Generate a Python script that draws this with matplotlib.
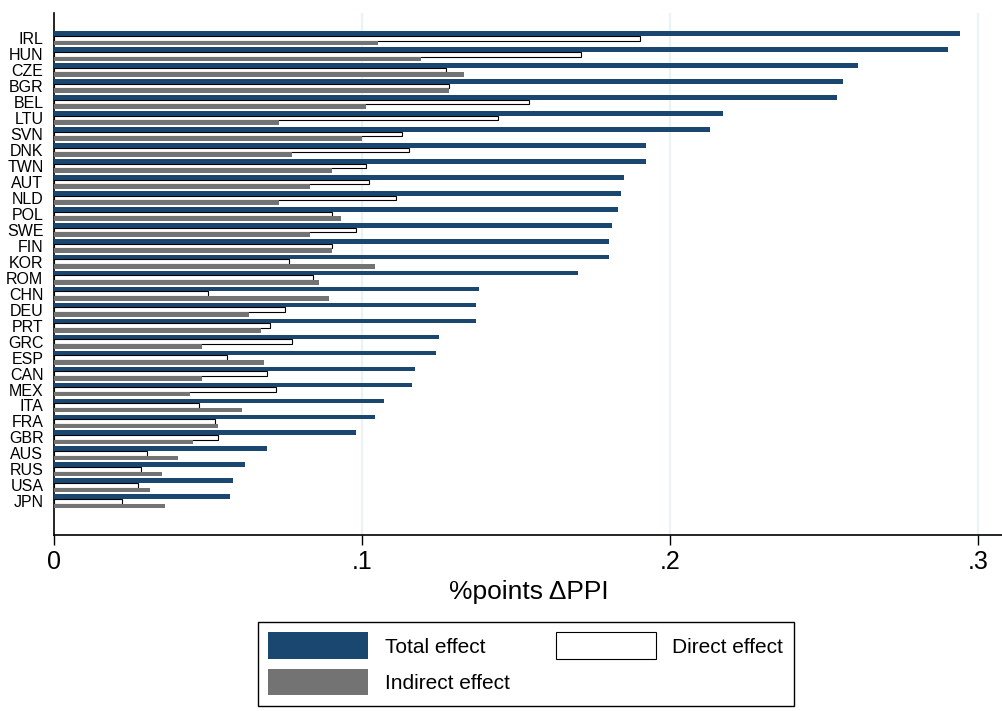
import matplotlib
matplotlib.use('Agg')
import matplotlib.pyplot as plt
import numpy as np
from matplotlib.patches import Patch

plt.rcParams['font.family'] = ['Liberation Sans', 'DejaVu Sans']

countries = ['IRL', 'HUN', 'CZE', 'BGR', 'BEL', 'LTU', 'SVN', 'DNK', 'TWN', 'AUT',
             'NLD', 'POL', 'SWE', 'FIN', 'KOR', 'ROM', 'CHN', 'DEU', 'PRT', 'GRC',
             'ESP', 'CAN', 'MEX', 'ITA', 'FRA', 'GBR', 'AUS', 'RUS', 'USA', 'JPN']
total = [0.294, 0.290, 0.261, 0.256, 0.254, 0.217, 0.213, 0.192, 0.192, 0.185,
         0.184, 0.183, 0.181, 0.180, 0.180, 0.170, 0.138, 0.137, 0.137, 0.125,
         0.124, 0.117, 0.116, 0.107, 0.104, 0.098, 0.069, 0.062, 0.058, 0.057]
direct = [0.190, 0.171, 0.127, 0.128, 0.154, 0.144, 0.113, 0.115, 0.101, 0.102,
          0.111, 0.090, 0.098, 0.090, 0.076, 0.084, 0.050, 0.075, 0.070, 0.077,
          0.056, 0.069, 0.072, 0.047, 0.052, 0.053, 0.030, 0.028, 0.027, 0.022]
indirect = [0.105, 0.119, 0.133, 0.128, 0.101, 0.073, 0.100, 0.077, 0.090, 0.083,
            0.073, 0.093, 0.083, 0.090, 0.104, 0.086, 0.089, 0.063, 0.067, 0.048,
            0.068, 0.048, 0.044, 0.061, 0.053, 0.045, 0.040, 0.035, 0.031, 0.036]
xticks = [0, 0.1, 0.2, 0.3]
xticklabels = ['0', '.1', '.2', '.3']

navy = '#1a476f'
gray = '#737373'
grid_col = '#eaf2f3'

fig = plt.figure(figsize=(10.03, 7.11), dpi=100)
ax = fig.add_axes([54.5 / 1003, 176 / 711, 1 - 54.5 / 1003, 522 / 711])

y = np.arange(len(countries))
h = 0.29
ax.barh(y - h, total, height=h, color=navy, edgecolor='none', zorder=3)
ax.barh(y, direct, height=h, color='white', edgecolor='black', linewidth=0.8, zorder=3)
ax.barh(y + h, indirect, height=h, color=gray, edgecolor='none', zorder=3)

ax.set_ylim(len(countries) - 1 + 2.11, -1.58)
ax.set_xlim(0, 0.308)

for g in xticks[1:]:
    ax.axvline(g, color=grid_col, linewidth=1.6, zorder=1)

ax.set_yticks(y)
ax.set_yticklabels(countries, fontsize=11.5)
ax.tick_params(axis='y', length=0, pad=8)
ax.set_xticks(xticks)
ax.set_xticklabels(xticklabels, fontsize=18)
ax.tick_params(axis='x', length=7, width=1, pad=4, direction='out')
ax.set_xlabel('%points \u0394PPI', fontsize=19, labelpad=4)

for s in ['top', 'right']:
    ax.spines[s].set_visible(False)
for s in ['left', 'bottom']:
    ax.spines[s].set_linewidth(1.2)

handles = [Patch(facecolor=navy, edgecolor='none', label='Total effect'),
           Patch(facecolor=gray, edgecolor='none', label='Indirect effect'),
           Patch(facecolor='white', edgecolor='black', linewidth=0.8, label='Direct effect')]
leg = fig.legend(handles=handles, ncol=2, loc='upper left',
                 bbox_to_anchor=(258 / 1003, 1 - 622 / 711), borderaxespad=0,
                 fontsize=15, handlelength=4.8, handleheight=1.6,
                 handletextpad=0.8, columnspacing=2.2, labelspacing=0.45,
                 borderpad=0.5, fancybox=False, framealpha=1, edgecolor='black')
leg.get_frame().set_linewidth(1.0)

fig.savefig('out.png', dpi=100)
